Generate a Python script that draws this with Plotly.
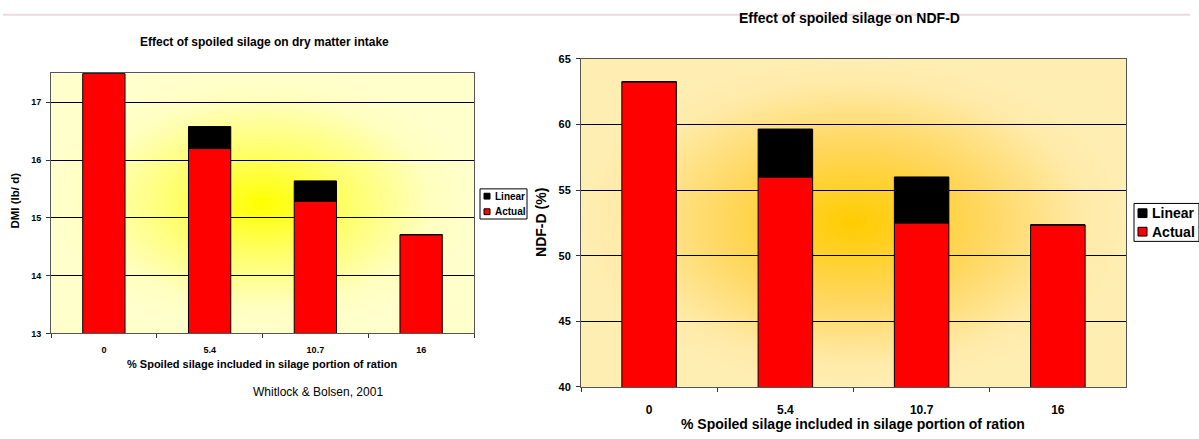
import base64
import plotly.graph_objects as go

W, H = 1199, 439

# ---- data -------------------------------------------------------------
spoiled_pct = ["0", "5.4", "10.7", "16"]

dmi_actual = [17.5, 16.2, 15.29, 14.71]
dmi_linear = [17.5, 16.58, 15.64, 14.71]

ndfd_actual = [63.25, 56.0, 52.5, 52.35]
ndfd_linear = [63.25, 59.65, 56.0, 52.35]

dmi_ticks = [13, 14, 15, 16, 17]
ndfd_ticks = [40, 45, 50, 55, 60, 65]


def px(x):
    return x / W


def py(y):
    return 1 - y / H


def radial_bg(stops):
    stop_tags = "".join(
        f'<stop offset="{o}" stop-color="{c}"/>' for o, c in stops
    )
    svg = (
        '<svg xmlns="http://www.w3.org/2000/svg" width="100" height="100" '
        'viewBox="0 0 100 100" preserveAspectRatio="none"><defs>'
        f'<radialGradient id="g" cx="50%" cy="50%" r="50%">{stop_tags}'
        '</radialGradient></defs>'
        '<rect width="100" height="100" fill="url(#g)"/></svg>'
    )
    return "data:image/svg+xml;base64," + base64.b64encode(svg.encode()).decode()


fig = go.Figure()

# ---- bars -------------------------------------------------------------
def add_bars(actual, linear, xa, ya):
    extra = [l - a for a, l in zip(actual, linear)]
    fig.add_trace(go.Bar(
        x=spoiled_pct, y=actual, name="Actual", width=0.4,
        marker=dict(color="#FF0000", line=dict(color="#000000", width=1)),
        xaxis=xa, yaxis=ya, showlegend=False,
    ))
    fig.add_trace(go.Bar(
        x=spoiled_pct, y=extra, base=actual, name="Linear", width=0.4,
        marker=dict(color="#000000", line=dict(color="#000000", width=1)),
        xaxis=xa, yaxis=ya, showlegend=False,
    ))


add_bars(dmi_actual, dmi_linear, "x", "y")
add_bars(ndfd_actual, ndfd_linear, "x2", "y2")

axis_font_l = dict(family="Liberation Sans, Arial", size=9, color="#000000")
axis_font_r = dict(family="Liberation Sans, Arial", size=11, color="#000000")

common_x = dict(
    type="category", showgrid=False, ticks="outside", ticklen=4,
    tickcolor="#333333", tickson="boundaries", showline=True,
    linecolor="#555555", linewidth=1, mirror=True, zeroline=False,
    fixedrange=True,
)
common_y = dict(
    showgrid=True, gridcolor="#000000", gridwidth=1, ticks="outside",
    ticklen=4, tickcolor="#333333", showline=True, linecolor="#555555",
    linewidth=1, mirror=True, zeroline=False, fixedrange=True,
)

fig.update_layout(
    width=W, height=H,
    margin=dict(l=0, r=0, t=0, b=0),
    paper_bgcolor="#FFFFFF",
    plot_bgcolor="rgba(0,0,0,0)",
    barmode="overlay",
    xaxis=dict(common_x, domain=[px(51), px(474)],
               tickfont=dict(axis_font_l, weight="bold"), ticklabelstandoff=8),
    yaxis=dict(common_y, domain=[py(336.7), py(69.3)], range=[13, 17.5],
               tickvals=dmi_ticks, tickfont=dict(axis_font_l, weight="bold"),
               ticklabelstandoff=3),
    xaxis2=dict(common_x, domain=[px(581), px(1126)], anchor="y2",
                tickfont=dict(axis_font_r, size=12, weight="bold"),
                ticklabelstandoff=12),
    yaxis2=dict(common_y, domain=[py(391.7), py(54.3)], anchor="x2",
                range=[40, 65], tickvals=ndfd_ticks,
                tickfont=dict(axis_font_r, weight="bold"),
                ticklabelstandoff=3),
)

# gradient fills of the two plot areas
fig.add_layout_image(dict(
    source=radial_bg([(0, "#FFFF00"), (0.4, "#FFFF6A"),
                      (0.8, "#FFFFC0"), (1, "#FFFFCC")]),
    xref="x domain", yref="y domain", x=0, y=1, sizex=1, sizey=1,
    xanchor="left", yanchor="top", sizing="stretch", layer="below",
))
fig.add_layout_image(dict(
    source=radial_bg([(0, "#FFCC00"), (0.45, "#FFD65A"),
                      (0.85, "#FFEAA8"), (1, "#FFEEB2")]),
    xref="x2 domain", yref="y2 domain", x=0, y=1, sizex=1, sizey=1,
    xanchor="left", yanchor="top", sizing="stretch", layer="below",
))

# thin rule across the top of the page
fig.add_shape(type="line", xref="paper", yref="paper",
              x0=px(3), x1=px(1190), y0=py(9), y1=py(9),
              line=dict(color="#EDD8DF", width=2), layer="below")

bold = "Liberation Sans, Arial"


def text(x, y, s, size, weight="bold", angle=0, xanchor="center"):
    fig.add_annotation(
        x=px(x), y=py(y), xref="paper", yref="paper", text=s,
        showarrow=False, textangle=angle, xanchor=xanchor, yanchor="middle",
        font=dict(family=bold, size=size, color="#000000", weight=weight),
    )


# titles and axis titles
text(264, 37, "Effect of spoiled silage on dry matter intake", 12)
text(262, 368, "% Spoiled silage included in silage portion of ration", 11)
text(15, 200, "DMI (lb/ d)", 11.5, angle=-90)
text(318, 397, "Whitlock &amp; Bolsen, 2001", 12, weight="normal")

text(849, 12, "Effect of spoiled silage on NDF-D", 14)
text(853, 430, "% Spoiled silage included in silage portion of ration", 14)
text(541, 223, "NDF-D (%)", 14, angle=-90)


# legends
def legend_box(x0, y0, x1, y1, rows, size, sq):
    fig.add_shape(type="rect", xref="paper", yref="paper",
                  x0=px(x0), x1=px(x1), y0=py(y0), y1=py(y1),
                  line=dict(color="#000000", width=1), fillcolor="#FFFFFF")
    for (label, color, yc) in rows:
        sx = x0 + 4
        fig.add_shape(type="rect", xref="paper", yref="paper",
                      x0=px(sx), x1=px(sx + sq), y0=py(yc - sq / 2),
                      y1=py(yc + sq / 2),
                      line=dict(color="#000000", width=1), fillcolor=color)
        text(sx + sq + 3, yc, label, size, xanchor="left")


legend_box(480, 188, 527, 219,
           [("Linear", "#000000", 195.5), ("Actual", "#FF0000", 211.5)], 10, 6)
legend_box(1134, 203, 1199, 242,
           [("Linear", "#000000", 213), ("Actual", "#FF0000", 232)], 14, 9)

fig.write_html("out.html")
